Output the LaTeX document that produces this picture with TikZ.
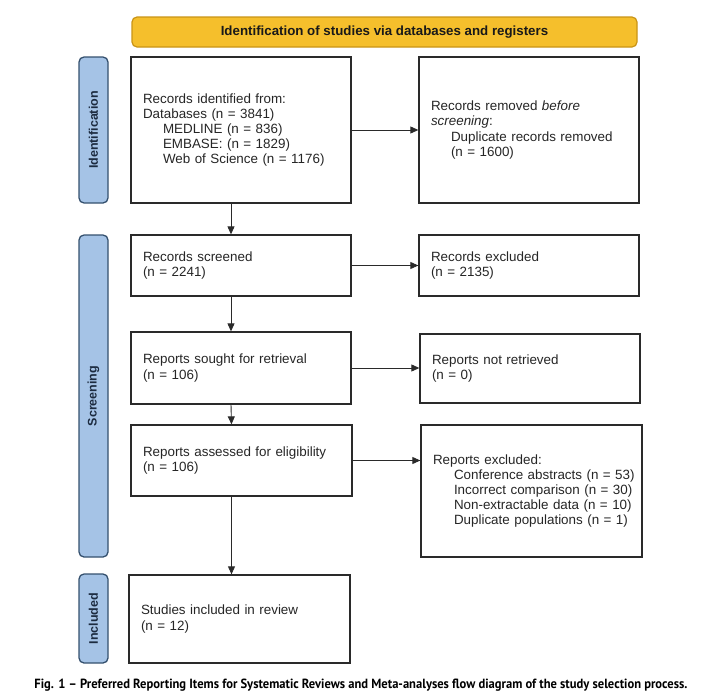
\documentclass[tikz,border=0pt]{standalone}
\usepackage{fontspec}
\setmainfont{Liberation Sans}
\newfontfamily\capfont{PT Sans}
\usetikzlibrary{arrows.meta,positioning,calc}
\definecolor{bannerfill}{HTML}{F5BF2C}
\definecolor{bannerdraw}{HTML}{C99416}
\definecolor{sidefill}{HTML}{A5C3E6}
\definecolor{sidedraw}{HTML}{34506E}
\definecolor{sidetxt}{HTML}{1C2B40}
\definecolor{boxdraw}{HTML}{2A2A2A}
\tikzset{
  box/.style={draw=boxdraw, line width=1.3pt, fill=white, inner sep=0pt, align=left,
    font=\fontsize{13.4}{15.2}\selectfont, text=black!85},
  side/.style={draw=sidedraw, fill=sidefill, line width=1.3pt, rounded corners=5pt,
    minimum width=29pt, inner sep=0pt},
  sidetext/.style={rotate=90, text=sidetxt, font=\bfseries\fontsize{12.5}{14}\selectfont},
  arr/.style={draw=boxdraw, line width=0.9pt, -{Triangle[length=8pt,width=7pt]}},
}
\begin{document}
\begin{tikzpicture}[x=1pt,y=-1pt]
\useasboundingbox (0,0) rectangle (706,696);
% banner
\node[draw=bannerdraw, fill=bannerfill, line width=1.2pt, rounded corners=5pt,
  minimum width=505pt, minimum height=30pt, text=black!90, font=\bfseries\fontsize{13.3}{15}\selectfont]
  (banner) at (384.5,32) {Identification of studies via databases and registers};
% side labels
\node[side, minimum height=146pt] (sid) at (93.5,130) {};
\node[sidetext] (sidt) at (sid.center) {Identification};
\node[side, minimum height=322pt] (ssc) at (93.5,396) {};
\node[sidetext] (ssct) at (ssc.center) {Screening};
\node[side, minimum height=89pt] (sin) at (93.5,618.5) {};
\node[sidetext] (sint) at (sin.center) {Included};
% boxes
\node[box, minimum width=220pt, minimum height=146pt, text width=196pt] (b1) at (241,130)
  {Records identified from:\\Databases (n = 3841)\\\hspace*{20pt}MEDLINE (n = 836)\\\hspace*{20pt}EMBASE: (n = 1829)\\\hspace*{20pt}Web of Science (n = 1176)};
\node[box, minimum width=220pt, minimum height=146pt, text width=196pt] (b2) at (529,130)
  {Records removed \textit{before}\\\textit{screening}:\\\hspace*{20pt}Duplicate records removed\\\hspace*{20pt}(n = 1600)};
\node[box, minimum width=220pt, minimum height=61pt, text width=196pt] (b3) at (241,265.5)
  {Records screened\\(n = 2241)};
\node[box, minimum width=220pt, minimum height=61pt, text width=196pt] (b4) at (529,265.5)
  {Records excluded\\(n = 2135)};
\node[box, minimum width=220pt, minimum height=72pt, text width=196pt] (b5) at (241,368)
  {Reports sought for retrieval\\(n = 106)};
\node[box, minimum width=220pt, minimum height=69pt, text width=196pt] (b6) at (530,368.5)
  {Reports not retrieved\\(n = 0)};
\node[box, minimum width=221pt, minimum height=71pt, text width=197pt] (b7) at (241.5,460.5)
  {Reports assessed for eligibility\\(n = 106)};
\node[box, minimum width=221pt, minimum height=132pt, text width=197pt] (b8) at (531.5,491)
  {Reports excluded:\\\hspace*{21pt}\mbox{Conference abstracts (n = 53)}\\\hspace*{21pt}\mbox{Incorrect comparison (n = 30)}\\\hspace*{21pt}\mbox{Non-extractable data (n = 10)}\\\hspace*{21pt}\mbox{Duplicate populations (n = 1)}};
\node[box, minimum width=221pt, minimum height=88pt, text width=197pt] (b9) at (239.5,619)
  {Studies included in review\\(n = 12)};
% arrows
\draw[arr] (b1.east) -- (b2.west);
\draw[arr] (b3.east) -- (b4.west);
\draw[arr] (b5.east) -- (b6.west |- b5.east);
\draw[arr] (b7.east) -- (b8.west |- b7.east);
\draw[arr] ([xshift=-10pt]b1.south) -- ([xshift=-10pt]b3.north);
\draw[arr] ([xshift=-10pt]b3.south) -- ([xshift=-10pt]b5.north);
\draw[arr] ([xshift=-10pt]b5.south) -- ([xshift=-10pt]b7.north);
\draw[arr] ([xshift=-10pt]b7.south) -- ([xshift=-10pt]b7.south |- b9.north);
% caption
\node[inner sep=0pt] (cap) at (361,685)
  {\resizebox{653pt}{9.5pt}{\capfont\bfseries\fontsize{11}{13}\selectfont Fig. 1 – Preferred Reporting Items for Systematic Reviews and Meta-analyses flow diagram of the study selection process.}};
\end{tikzpicture}
\end{document}
